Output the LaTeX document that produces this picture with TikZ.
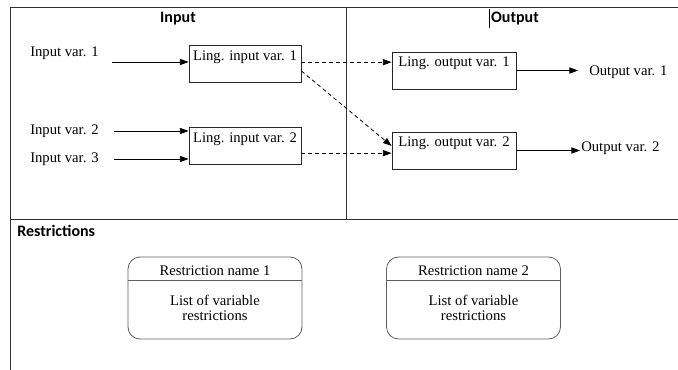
\documentclass[tikz,border=0pt]{standalone}
\usepackage{fontspec}
\setmainfont{Liberation Serif}
\newfontfamily\headfont{Carlito}
\usepackage{tikz}
\usetikzlibrary{arrows.meta,positioning,calc}
\definecolor{framegray}{RGB}{50,50,50}
\definecolor{boxgray}{RGB}{95,95,95}
\tikzstyle{Lin}=[shape=rectangle,draw=black!85,line width=0.6pt,inner sep=0pt,minimum width=84pt,text height=12pt,text depth=15.75pt]
\tikzstyle{Lout}=[shape=rectangle,draw=black!85,line width=0.6pt,inner sep=0pt,minimum width=93pt,text height=11.25pt,text depth=16.5pt]
\tikzstyle{Rbox}=[shape=rectangle,draw=boxgray,line width=0.6pt,rounded corners=9pt,minimum width=130.5pt,minimum height=61.5pt]
\tikzstyle{lbl}=[inner sep=0pt]
\tikzstyle{head}=[inner sep=0pt,font=\headfont\bfseries\fontsize{12}{14}\selectfont]
\tikzstyle{solidedge}=[-{Triangle[length=6.5pt,width=4.6pt]},line width=0.6pt]
\tikzstyle{dashedge}=[-{Triangle[length=6.5pt,width=4.6pt]},line width=0.6pt,dash pattern=on 3pt off 2.2pt]

\begin{document}
\begin{tikzpicture}[x=0.75pt,y=-0.75pt]
 \fontsize{11}{11.5}\selectfont
 \useasboundingbox (0,0) rectangle (678,370);

 % frame
 \draw[framegray,line width=0.75pt] (678,8) -- (10,8) -- (10,370);
 \draw[framegray,line width=0.75pt] (346,8) -- (346,220);
 \draw[framegray,line width=0.75pt] (10,220) -- (678,220);
 \draw[black,line width=0.6pt] (489,9) -- (489,28);

 \node[head] (hin) at (178,19) {Input};
 \node[head] (hout) at (515,19) {Output};
 \node[head,anchor=west] (hres) at (17,231) {Restrictions};

 \node[lbl,anchor=west] (in1) at (30,53) {Input var. 1};
 \node[lbl,anchor=west] (in2) at (30,131) {Input var. 2};
 \node[lbl,anchor=west] (in3) at (30,159) {Input var. 3};
 \coordinate (s1) at (112,62);

 \node[Lin] (lin1) at (245,63.5) {Ling. input var. 1};
 \node[Lin] (lin2) at (245,145.5) {Ling. input var. 2};

 \node[Lout] (lout1) at (454,70.5) {Ling. output var. 1};
 \node[Lout] (lout2) at (454,150.5) {Ling. output var. 2};

 \node[lbl,anchor=west] (out1) at (589,72) {Output var. 1};
 \node[lbl,anchor=west] (out2) at (581,148) {Output var. 2};

\path
(s1) edge [solidedge] (lin1.west |- s1)
(in2.east) edge [solidedge,shorten <=11pt] (lin2.west |- in2)
(in3.east) edge [solidedge,shorten <=11pt] (lin2.west |- in3)

([yshift=1pt]lin1.east) edge [dashedge] ([yshift=1pt]lin1.east -| lout1.west)
([yshift=-5.6pt]lin1.east) edge [dashedge] ([yshift=3.4pt]lout2.west)
([yshift=-2pt]lout2.west -| lin2.east) edge [dashedge] ([yshift=-2pt]lout2.west)

(lout1.east) edge [solidedge,shorten >=8.2pt] (lout1.east -| out1.west)
(lout2.east) edge [solidedge,shorten >=0.7pt] (lout2.east -| out2.west);

 % restrictions
 \node[Rbox] (r1) at (215,298) {};
 \node[lbl] (rt1) at ([yshift=-10.5pt]r1.north) {Restriction name 1};
 \draw[boxgray,line width=0.6pt] ([yshift=-18pt]r1.north west) -- ([yshift=-18pt]r1.north east);
 \node[lbl,align=center] (rb1) at ([yshift=-38.6pt]r1.north) {List of variable\\restrictions};

 \node[Rbox] (r2) at (473.5,298) {};
 \node[lbl] (rt2) at ([yshift=-10.5pt]r2.north) {Restriction name 2};
 \draw[boxgray,line width=0.6pt] ([yshift=-18pt]r2.north west) -- ([yshift=-18pt]r2.north east);
 \node[lbl,align=center] (rb2) at ([yshift=-38.6pt]r2.north) {List of variable\\restrictions};

\end{tikzpicture}
\end{document}
